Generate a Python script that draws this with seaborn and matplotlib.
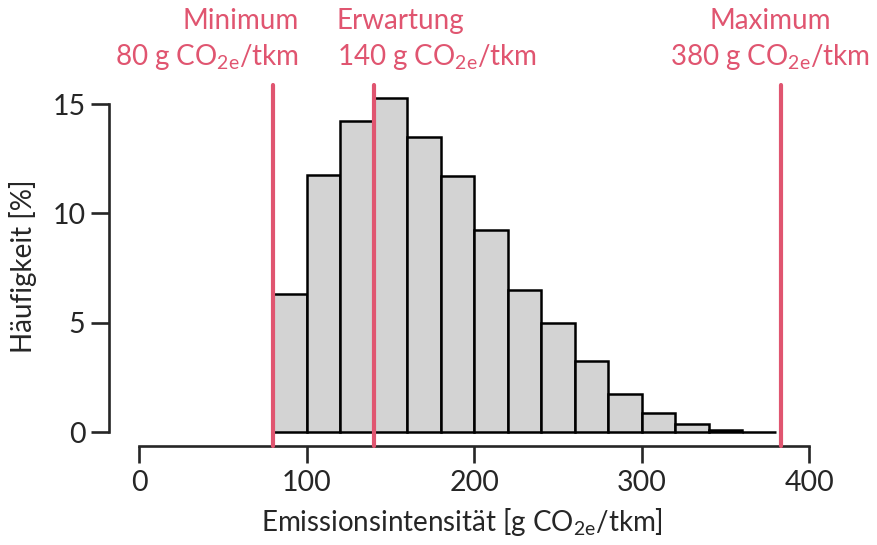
import matplotlib
matplotlib.use("Agg")
import numpy as np
import pandas as pd
import matplotlib.pyplot as plt
import matplotlib.transforms as mtransforms
import seaborn as sns

# Histogramm-Daten
bin_edges = [80, 100, 120, 140, 160, 180, 200, 220, 240, 260, 280, 300, 320, 340, 360, 380]
freq = [6.30, 11.75, 14.23, 15.26, 13.48, 11.72, 9.23, 6.49, 4.98, 3.26, 1.75, 0.87, 0.37, 0.09, 0.0]

# Markierungen
marker_x = [80, 140, 383]
marker_text = ["Minimum\n80 g CO$_{\\mathregular{2e}}$/tkm",
               "Erwartung\n140 g CO$_{\\mathregular{2e}}$/tkm",
               "Maximum\n380 g CO$_{\\mathregular{2e}}$/tkm"]
text_x = [95.5, 118.0, 376.5]
text_ha = ["right", "left", "center"]

x_ticks = [0, 100, 200, 300, 400]
y_ticks = [0, 5, 10, 15]

RED = "#e05570"
FONT = "Lato"

sns.set_style("ticks")
plt.rcParams["font.family"] = [FONT, "DejaVu Sans"]
plt.rcParams["mathtext.fontset"] = "custom"
plt.rcParams["mathtext.rm"] = FONT

df = pd.DataFrame({"x": np.array(bin_edges[:-1]) + 10, "w": freq})

fig = plt.figure(figsize=(8.77, 5.45), dpi=100)
ax = fig.add_axes([109 / 877, 1 - 446 / 545, (826 - 109) / 877, (446 - 85) / 545])

sns.histplot(data=df, x="x", weights="w", bins=bin_edges, color="#d3d3d3",
             edgecolor="black", linewidth=1.8, alpha=1, ax=ax)

for xv in marker_x:
    ax.axvline(xv, color=RED, lw=3, zorder=5, clip_on=False)

trans = mtransforms.blended_transform_factory(ax.transData, fig.transFigure)
for xv, t, ha in zip(text_x, marker_text, text_ha):
    ax.text(xv, 1 - 8 / 545, t, transform=trans, ha=ha, va="top", color=RED,
            fontsize=20, linespacing=1.35)

ax.set_xlim(-17.9, 410)
ax.set_ylim(-0.63, 15.87)
ax.set_xticks(x_ticks)
ax.set_yticks(y_ticks)

for side in ["top", "right"]:
    ax.spines[side].set_visible(False)
ax.spines["left"].set_bounds(0, 15)
ax.spines["bottom"].set_bounds(0, 400)
for side in ["left", "bottom"]:
    ax.spines[side].set_linewidth(1.9)
ax.tick_params(axis="y", length=13, width=1.9, pad=4, labelsize=20.5)
ax.tick_params(axis="x", length=12, width=1.9, pad=5, labelsize=20.5)

ax.set_xlabel("Emissionsintensität [g CO$_{\\mathregular{2e}}$/tkm]", fontsize=20)
ax.set_ylabel("Häufigkeit [%]", fontsize=20)
ax.xaxis.set_label_coords(0.492, -0.21)
ax.xaxis.label.set_va("center")
ax.yaxis.set_label_coords(-0.12, 0.499)
ax.yaxis.label.set_va("center")

fig.savefig("out.png", dpi=100)
